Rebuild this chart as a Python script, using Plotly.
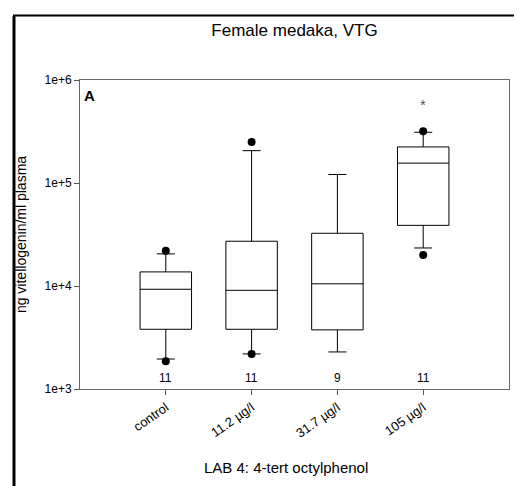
import plotly.graph_objects as go

# groups and box statistics (ng vitellogenin / ml plasma)
groups = ["control", "11.2 µg/l", "31.7 µg/l", "105 µg/l"]
positions = [1, 2, 3, 4]
q1 = [3800, 3800, 3750, 38800]
median = [9300, 9080, 10500, 156000]
q3 = [13700, 27200, 32500, 224000]
lower_whisker = [1955, 2190, 2290, 23400]
upper_whisker = [20500, 206000, 121000, 311000]

# outliers (x position, value)
outlier_x = [1, 1, 2, 2, 4, 4]
outlier_y = [22000, 1860, 250000, 2190, 318000, 20000]

n_per_group = [11, 11, 9, 11]
signif = ["", "", "", "*"]

fig = go.Figure()

fig.add_trace(go.Box(
    x=positions,
    q1=q1,
    median=median,
    q3=q3,
    lowerfence=lower_whisker,
    upperfence=upper_whisker,
    width=0.6,
    whiskerwidth=0.35,
    fillcolor="white",
    line=dict(color="black", width=1),
    boxpoints=False,
    showlegend=False,
    hoverinfo="skip",
))

fig.add_trace(go.Scatter(
    x=outlier_x,
    y=outlier_y,
    mode="markers",
    marker=dict(color="black", size=8),
    showlegend=False,
    hoverinfo="skip",
))

# n per group just above the x axis
for p, n in zip(positions, n_per_group):
    fig.add_annotation(x=p, y=0, yref="paper", text=str(n), showarrow=False,
                       yanchor="bottom", yshift=2,
                       font=dict(size=12, color="black"))

# significance stars
for p, s in zip(positions, signif):
    if s:
        fig.add_annotation(x=p, y=0.92, yref="paper", text=s, showarrow=False,
                           yanchor="middle",
                           font=dict(size=15, color="#555"))

fig.add_annotation(x=0.005, y=0.95, xref="paper", yref="paper", text="<b>A</b>",
                   showarrow=False, xanchor="left", yanchor="middle",
                   font=dict(size=15, color="black"))

fig.add_annotation(x=0.48, y=-0.255, xref="paper", yref="paper",
                   text="LAB 4: 4-tert octylphenol", showarrow=False,
                   yanchor="middle", font=dict(size=15, color="black"))

# outer frame lines (left and top)
L, T, W, H = 72, 72, 429, 309
fig.add_shape(type="line", xref="paper", yref="paper",
              x0=(6 - L) / W, x1=(6 - L) / W, y0=(T - 8) / H + 1, y1=-(486 - T - H) / H,
              line=dict(color="black", width=3))
fig.add_shape(type="line", xref="paper", yref="paper",
              x0=(5 - L) / W, x1=(522 - L) / W, y0=(T - 7.5) / H + 1, y1=(T - 7.5) / H + 1,
              line=dict(color="black", width=2))

fig.update_layout(
    width=522, height=486,
    margin=dict(l=L, r=522 - L - W, t=T, b=486 - T - H),
    paper_bgcolor="white",
    plot_bgcolor="white",
    font=dict(family="Liberation Sans, Arial, sans-serif", size=12, color="black"),
    title=dict(text="Female medaka, VTG", x=0.5, xref="paper", y=1 - 22 / 486,
               yanchor="middle", font=dict(size=17, color="black")),
    xaxis=dict(
        range=[0, 5],
        tickvals=positions,
        ticktext=groups,
        tickangle=-35,
        ticks="outside", ticklen=5, tickcolor="#555",
        showline=True, linecolor="#666", linewidth=1, mirror=True,
        showgrid=False, zeroline=False,
        tickfont=dict(size=13),
    ),
    yaxis=dict(
        type="log",
        range=[3, 6],
        tickvals=[1e3, 1e4, 1e5, 1e6],
        ticktext=["1e+3", "1e+4", "1e+5", "1e+6"],
        ticks="outside", ticklen=5, tickcolor="#555",
        showline=True, linecolor="#666", linewidth=1, mirror=True,
        showgrid=False, zeroline=False,
        title=dict(text="ng vitellogenin/ml plasma", font=dict(size=14), standoff=14),
        tickfont=dict(size=12),
    ),
)

fig.write_html("out.html")
